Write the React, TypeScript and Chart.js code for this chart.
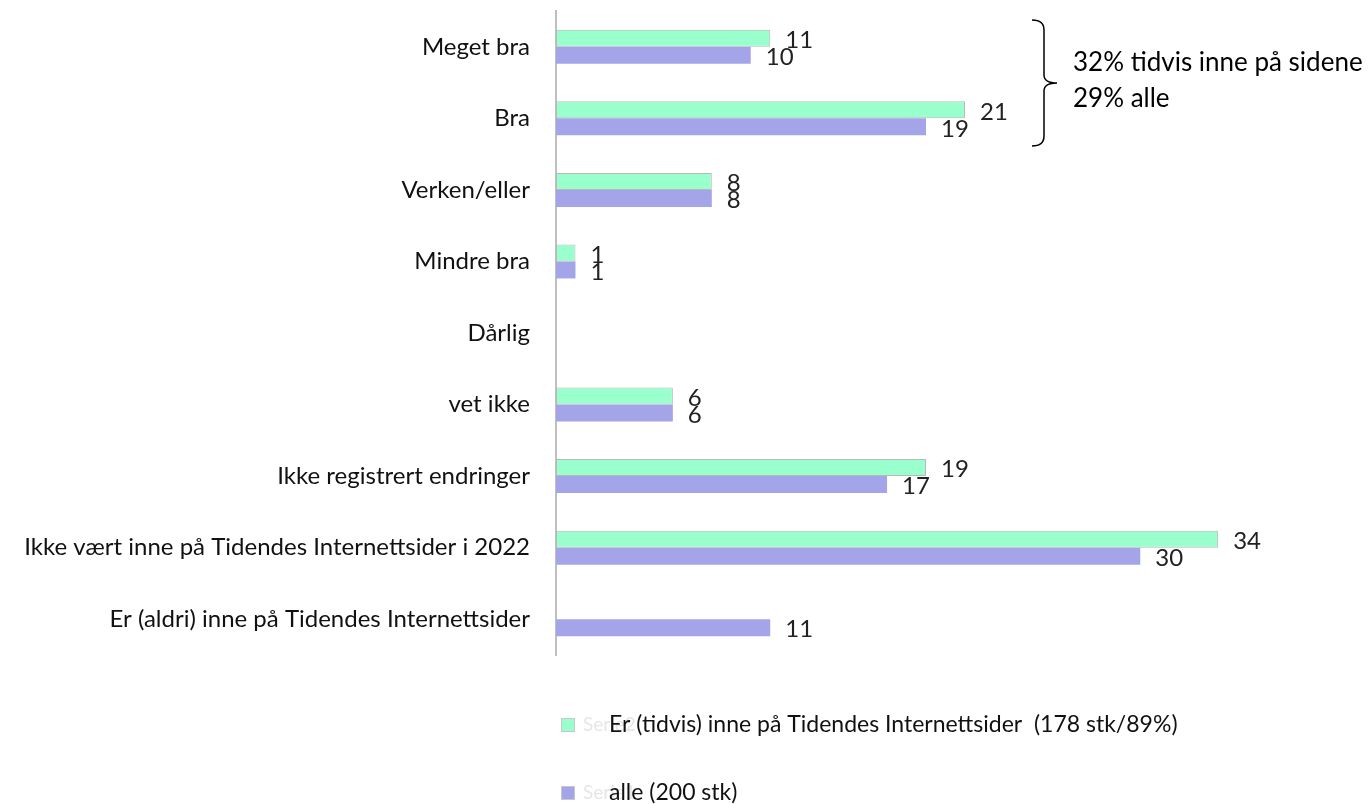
import React, { useEffect, useRef } from "react";
import { Chart, registerables } from "chart.js";

Chart.register(...registerables);

const categories = [
  "Meget bra",
  "Bra",
  "Verken/eller",
  "Mindre bra",
  "Dårlig",
  "vet ikke",
  "Ikke registrert endringer",
  "Ikke vært inne på Tidendes Internettsider i 2022",
  "Er (aldri) inne på Tidendes Internettsider",
];
const tidvisValues: (number | null)[] = [11, 21, 8, 1, null, 6, 19, 34, null];
const alleValues: (number | null)[] = [10, 19, 8, 1, null, 6, 17, 30, 11];
const legendLabels = [
  "Er (tidvis) inne på Tidendes Internettsider  (178 stk/89%)",
  "alle (200 stk)",
];
const ghostLabels = ["Serie2", "Serie1"];
const noteLines = ["32% tidvis inne på sidene", "29% alle"];

const GREEN = "rgb(153,255,204)";
const PURPLE = "rgb(164,164,232)";
const FONT = "Lato, 'Open Sans', sans-serif";

const labelPlugin = {
  id: "valueLabels",
  afterDatasetsDraw(chart: any) {
    const ctx = chart.ctx;
    ctx.save();
    ctx.font = `24px ${FONT}`;
    ctx.fillStyle = "#222";
    ctx.textAlign = "left";
    ctx.textBaseline = "middle";
    chart.data.datasets.forEach((ds: any, di: number) => {
      const meta = chart.getDatasetMeta(di);
      meta.data.forEach((bar: any, i: number) => {
        const v = ds.data[i];
        if (v === null || v === undefined) return;
        ctx.fillText(String(v), bar.x + 15, bar.y + 2);
      });
    });
    ctx.restore();
  },
};

const extrasPlugin = {
  id: "extras",
  afterDraw(chart: any) {
    const ctx = chart.ctx;
    ctx.save();
    // bracket
    ctx.strokeStyle = "#000";
    ctx.lineWidth = 1.5;
    const bx = 1044, top = 20, bot = 146, mid = 83;
    ctx.beginPath();
    ctx.moveTo(1032, top);
    ctx.quadraticCurveTo(bx, top, bx, top + 10);
    ctx.lineTo(bx, mid - 8);
    ctx.quadraticCurveTo(bx, mid, 1057, mid);
    ctx.quadraticCurveTo(bx, mid, bx, mid + 8);
    ctx.lineTo(bx, bot - 10);
    ctx.quadraticCurveTo(bx, bot, 1032, bot);
    ctx.stroke();
    ctx.fillStyle = "#000";
    ctx.font = `26px ${FONT}`;
    ctx.textAlign = "left";
    ctx.textBaseline = "middle";
    ctx.fillText(noteLines[0], 1073, 63);
    ctx.fillText(noteLines[1], 1073, 99);

    // legend
    const items = [
      { color: GREEN, y: 725 },
      { color: PURPLE, y: 793 },
    ];
    items.forEach((it, i) => {
      ctx.fillStyle = it.color;
      ctx.fillRect(561, it.y - 7, 14, 14);
      ctx.strokeStyle = "#c8c8c8";
      ctx.lineWidth = 1;
      ctx.strokeRect(561.5, it.y - 6.5, 13, 13);
      ctx.font = `19px ${FONT}`;
      ctx.fillStyle = "#e6e6e6";
      ctx.fillText(ghostLabels[i], 583, it.y);
      ctx.font = `23px ${FONT}`;
      ctx.fillStyle = "#111";
      ctx.fillText(legendLabels[i], 609, it.y);
    });
    ctx.restore();
  },
};

export default function App() {
  const ref = useRef<HTMLCanvasElement>(null);
  useEffect(() => {
    if (!ref.current) return;
    const chart = new Chart(ref.current, {
      type: "bar",
      data: {
        labels: categories,
        datasets: [
          {
            label: legendLabels[0],
            data: tidvisValues,
            backgroundColor: GREEN,
            borderColor: "#b8b8b8",
            borderWidth: 1,
            borderSkipped: false,
          },
          {
            label: legendLabels[1],
            data: alleValues,
            backgroundColor: PURPLE,
            borderColor: "#a0a0c8",
            borderWidth: 0,
          },
        ],
      },
      options: {
        indexAxis: "y",
        responsive: false,
        animation: false,
        layout: { padding: { left: 0, right: 36, top: 11, bottom: 149 } },
        categoryPercentage: 0.475,
        barPercentage: 1,
        plugins: { legend: { display: false }, tooltip: { enabled: false } },
        scales: {
          x: { display: false, min: 0, max: 40 },
          y: {
            afterFit: (s: any) => {
              s.width = 556;
              s.paddingTop = 0;
              s.paddingBottom = 0;
            },
            grid: { display: true, drawOnChartArea: false, drawTicks: false },
            border: { display: true, color: "#bfbfbf", width: 2 },
            ticks: {
              padding: 26,
              color: "#111",
              font: { family: FONT, size: 24 },
            },
          },
        },
      } as any,
      plugins: [labelPlugin, extrasPlugin],
    });
    return () => chart.destroy();
  }, []);
  return (
    <div style={{ position: "fixed", left: 0, top: 0, width: 1371, height: 804, background: "#fff" }}>
      <canvas ref={ref} width={1371} height={804} style={{ display: "block" }} />
    </div>
  );
}
